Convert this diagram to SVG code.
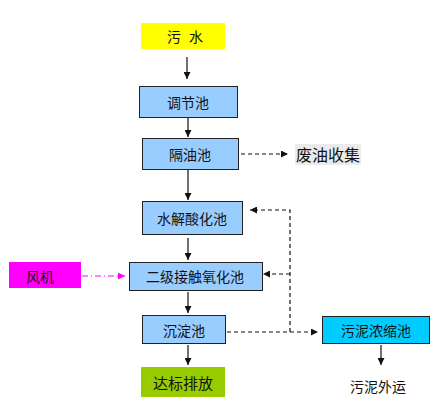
<svg xmlns="http://www.w3.org/2000/svg" width="439" height="405" viewBox="0 0 439 405">
<style>
text{font-family:"Noto Sans CJK SC","Noto Sans",sans-serif;font-size:14px;fill:#111;text-anchor:middle;dominant-baseline:central}
.b{fill:#99ccff;stroke:#222;stroke-width:1}
.s{stroke:#111;stroke-width:1.2;fill:none}
.d{stroke:#111;stroke-width:1.2;fill:none;stroke-dasharray:4,3}
.m{stroke:#ff00ff;stroke-width:1.2;fill:none;stroke-dasharray:6,3,1,3}
</style>
<defs>
<marker id="a" viewBox="0 0 10 10" refX="10" refY="5" markerWidth="7" markerHeight="7" orient="auto" markerUnits="userSpaceOnUse"><path d="M0,0L10,5L0,10z" fill="#111"/></marker>
<marker id="am" viewBox="0 0 10 10" refX="10" refY="5" markerWidth="7" markerHeight="7" orient="auto" markerUnits="userSpaceOnUse"><path d="M0,0L10,5L0,10z" fill="#ff00ff"/></marker>
</defs>
<rect width="439" height="405" fill="#fff"/>
<g id="connectors">
<path class="s" d="M187,57V79" marker-end="url(#a)"/>
<path class="s" d="M188,117V137" marker-end="url(#a)"/>
<path class="d" d="M241,154H288" marker-end="url(#a)"/>
<path class="s" d="M188,169V200" marker-end="url(#a)"/>
<path class="s" d="M188,238V260" marker-end="url(#a)"/>
<path class="m" d="M82,276H125" marker-end="url(#am)"/>
<path class="s" d="M188,292V313" marker-end="url(#a)"/>
<path class="d" d="M227,332H318" marker-end="url(#a)"/>
<path class="d" d="M290,332V210H250" marker-end="url(#a)"/>
<path class="d" d="M290,274H263" marker-end="url(#a)"/>
<path class="s" d="M188,345V365" marker-end="url(#a)"/>
<path class="s" d="M381,345V365" marker-end="url(#a)"/>
</g>
<g id="wushui"><rect x="141" y="23" width="84" height="26" fill="#ffff00"/><text x="189" y="36" style="letter-spacing:8px">污水</text></g>
<g id="tiaojie"><rect class="b" x="139.5" y="86.5" width="98" height="31"/><text x="188" y="102">调节池</text></g>
<g id="geyou"><rect class="b" x="142.5" y="138.5" width="96" height="31"/><text x="190" y="154">隔油池</text></g>
<g id="feiyou"><rect x="295" y="144" width="66" height="21" fill="#ebebeb"/><text x="328" y="154" style="font-size:16px">废油收集</text></g>
<g id="shuijie"><rect class="b" x="142.5" y="201.5" width="100" height="33"/><text x="192" y="218">水解酸化池</text></g>
<g id="fengji"><rect x="9" y="262" width="72" height="26" fill="#ff00ff"/><text x="40" y="276">风机</text></g>
<g id="erji"><rect class="b" x="129.5" y="262.5" width="133" height="28"/><text x="195" y="276">二级接触氧化池</text></g>
<g id="chendian"><rect class="b" x="142.5" y="315.5" width="83" height="28"/><text x="184" y="330">沉淀池</text></g>
<g id="wuni"><rect x="322.5" y="316.5" width="107" height="27" fill="#00ccff" stroke="#222"/><text x="376" y="330">污泥浓缩池</text></g>
<g id="dabiao"><rect x="141" y="367" width="84" height="30" fill="#99cc00"/><text x="183" y="382" style="font-size:15px">达标排放</text></g>
<g id="waiyun"><text x="378" y="386">污泥外运</text></g>
</svg>
